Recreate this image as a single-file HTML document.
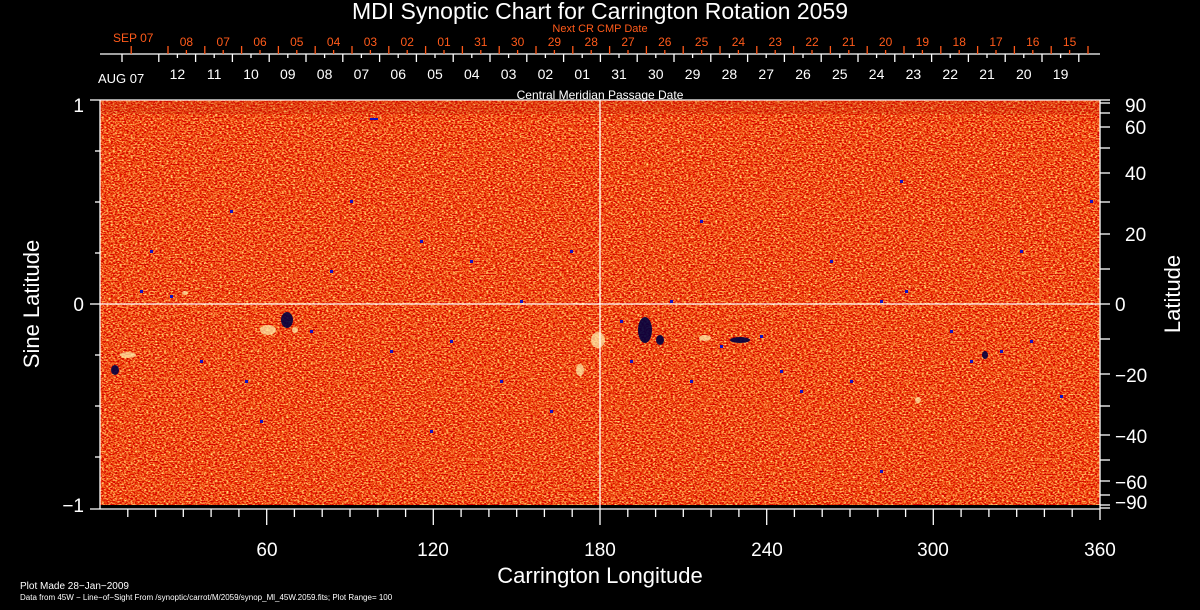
<!DOCTYPE html>
<html><head><meta charset="utf-8"><style>
html,body{margin:0;padding:0;background:#000;}
svg{display:block;}
text{font-family:"Liberation Sans",sans-serif;}
</style></head><body>
<svg width="1200" height="610" xmlns="http://www.w3.org/2000/svg">
<defs>
<filter id="noise" x="0" y="0" width="100%" height="100%" color-interpolation-filters="sRGB">
<feTurbulence type="fractalNoise" baseFrequency="0.45 0.7" numOctaves="2" seed="7" result="t"/>
<feColorMatrix in="t" type="matrix" values="0.5 0 0 0 0.68  2.0 0 0 0 -0.70  1.5 0 0 0 -0.68  0 0 0 0 1"/>
</filter>
</defs>
<rect x="0" y="0" width="1200" height="610" fill="#000"/>
<rect x="100" y="100" width="1000" height="405" fill="#e04018" filter="url(#noise)"/>
<rect x="100" y="100" width="1000" height="14" fill="#c02008" opacity="0.25"/>
<g fill="#fff4b0" opacity="0.7">
<ellipse cx="268" cy="330" rx="8" ry="5"/><ellipse cx="128" cy="355" rx="8" ry="3"/>
<ellipse cx="598" cy="340" rx="7" ry="8"/><ellipse cx="580" cy="370" rx="4" ry="6"/>
<ellipse cx="705" cy="338" rx="6" ry="3"/><ellipse cx="295" cy="330" rx="3" ry="3"/>
<ellipse cx="918" cy="400" rx="3" ry="3"/><ellipse cx="185" cy="293" rx="3" ry="2"/>
</g>
<g fill="#000040" opacity="0.9">
<ellipse cx="287" cy="320" rx="6" ry="8"/><ellipse cx="645" cy="330" rx="7" ry="13"/>
<ellipse cx="660" cy="340" rx="4" ry="5"/><ellipse cx="740" cy="340" rx="10" ry="3"/>
<ellipse cx="115" cy="370" rx="4" ry="5"/><ellipse cx="985" cy="355" rx="3" ry="4"/>
</g>
<g fill="#1010c0">
<rect x="140" y="290" width="3" height="3"/><rect x="170" y="295" width="3" height="3"/><rect x="230" y="210" width="3" height="3"/>
<rect x="245" y="380" width="3" height="3"/><rect x="310" y="330" width="3" height="3"/><rect x="330" y="270" width="3" height="3"/>
<rect x="370" y="118" width="8" height="2"/><rect x="390" y="350" width="3" height="3"/><rect x="420" y="240" width="3" height="3"/>
<rect x="450" y="340" width="3" height="3"/><rect x="470" y="260" width="3" height="3"/><rect x="500" y="380" width="3" height="3"/>
<rect x="520" y="300" width="3" height="3"/><rect x="550" y="410" width="3" height="3"/><rect x="570" y="250" width="3" height="3"/>
<rect x="620" y="320" width="3" height="3"/><rect x="630" y="360" width="3" height="3"/><rect x="670" y="300" width="3" height="3"/>
<rect x="690" y="380" width="3" height="3"/><rect x="720" y="345" width="3" height="3"/><rect x="760" y="335" width="3" height="3"/>
<rect x="780" y="370" width="3" height="3"/><rect x="800" y="390" width="3" height="3"/><rect x="830" y="260" width="3" height="3"/>
<rect x="850" y="380" width="3" height="3"/><rect x="880" y="300" width="3" height="3"/><rect x="905" y="290" width="3" height="3"/>
<rect x="950" y="330" width="3" height="3"/><rect x="970" y="360" width="3" height="3"/><rect x="1000" y="350" width="3" height="3"/>
<rect x="1030" y="340" width="3" height="3"/><rect x="1060" y="395" width="3" height="3"/><rect x="1090" y="200" width="3" height="3"/>
<rect x="150" y="250" width="3" height="3"/><rect x="200" y="360" width="3" height="3"/><rect x="260" y="420" width="3" height="3"/>
<rect x="350" y="200" width="3" height="3"/><rect x="430" y="430" width="3" height="3"/><rect x="700" y="220" width="3" height="3"/>
<rect x="900" y="180" width="3" height="3"/><rect x="1020" y="250" width="3" height="3"/><rect x="880" y="470" width="3" height="3"/>
</g>
<g stroke="#fff" stroke-width="1.3">
<line x1="600" y1="100" x2="600" y2="509"/>
<line x1="100" y1="304" x2="1100" y2="304"/>
<line x1="100" y1="100" x2="100" y2="509"/>
<line x1="90" y1="100" x2="1100" y2="100"/>
<line x1="90" y1="509" x2="1100" y2="509"/>
<line x1="1100" y1="100" x2="1100" y2="520"/>
<line x1="90" y1="304" x2="100" y2="304"/>
<line x1="95" y1="151" x2="100" y2="151"/><line x1="95" y1="202" x2="100" y2="202"/><line x1="95" y1="253" x2="100" y2="253"/>
<line x1="95" y1="355" x2="100" y2="355"/><line x1="95" y1="406" x2="100" y2="406"/><line x1="95" y1="457" x2="100" y2="457"/>
<line x1="127.8" y1="509" x2="127.8" y2="517"/><line x1="155.6" y1="509" x2="155.6" y2="517"/><line x1="183.3" y1="509" x2="183.3" y2="517"/>
<line x1="211.1" y1="509" x2="211.1" y2="517"/><line x1="238.9" y1="509" x2="238.9" y2="517"/><line x1="266.7" y1="509" x2="266.7" y2="525"/>
<line x1="294.4" y1="509" x2="294.4" y2="517"/><line x1="322.2" y1="509" x2="322.2" y2="517"/><line x1="350" y1="509" x2="350" y2="517"/>
<line x1="377.8" y1="509" x2="377.8" y2="517"/><line x1="405.6" y1="509" x2="405.6" y2="517"/><line x1="433.3" y1="509" x2="433.3" y2="525"/>
<line x1="461.1" y1="509" x2="461.1" y2="517"/><line x1="488.9" y1="509" x2="488.9" y2="517"/><line x1="516.7" y1="509" x2="516.7" y2="517"/>
<line x1="544.4" y1="509" x2="544.4" y2="517"/><line x1="572.2" y1="509" x2="572.2" y2="517"/><line x1="600" y1="509" x2="600" y2="525"/>
<line x1="627.8" y1="509" x2="627.8" y2="517"/><line x1="655.6" y1="509" x2="655.6" y2="517"/><line x1="683.3" y1="509" x2="683.3" y2="517"/>
<line x1="711.1" y1="509" x2="711.1" y2="517"/><line x1="738.9" y1="509" x2="738.9" y2="517"/><line x1="766.7" y1="509" x2="766.7" y2="525"/>
<line x1="794.4" y1="509" x2="794.4" y2="517"/><line x1="822.2" y1="509" x2="822.2" y2="517"/><line x1="850" y1="509" x2="850" y2="517"/>
<line x1="877.8" y1="509" x2="877.8" y2="517"/><line x1="905.6" y1="509" x2="905.6" y2="517"/><line x1="933.3" y1="509" x2="933.3" y2="525"/>
<line x1="961.1" y1="509" x2="961.1" y2="517"/><line x1="988.9" y1="509" x2="988.9" y2="517"/><line x1="1016.7" y1="509" x2="1016.7" y2="517"/>
<line x1="1044.4" y1="509" x2="1044.4" y2="517"/><line x1="1072.2" y1="509" x2="1072.2" y2="517"/>
<line x1="1100" y1="100" x2="1110" y2="100"/><line x1="1100" y1="103" x2="1110" y2="103"/><line x1="1100" y1="113" x2="1110" y2="113"/>
<line x1="1100" y1="127" x2="1110" y2="127"/><line x1="1100" y1="148" x2="1110" y2="148"/><line x1="1100" y1="173" x2="1110" y2="173"/>
<line x1="1100" y1="202" x2="1110" y2="202"/><line x1="1100" y1="234" x2="1110" y2="234"/><line x1="1100" y1="269" x2="1110" y2="269"/>
<line x1="1100" y1="304" x2="1110" y2="304"/>
<line x1="1100" y1="339" x2="1110" y2="339"/><line x1="1100" y1="374" x2="1110" y2="374"/><line x1="1100" y1="406" x2="1110" y2="406"/>
<line x1="1100" y1="435" x2="1110" y2="435"/><line x1="1100" y1="460" x2="1110" y2="460"/><line x1="1100" y1="481" x2="1110" y2="481"/>
<line x1="1100" y1="495" x2="1110" y2="495"/><line x1="1100" y1="505" x2="1110" y2="505"/><line x1="1100" y1="508" x2="1110" y2="508"/>
<line x1="100" y1="54" x2="1100" y2="54"/>
</g>
<g id="wt" stroke="#fff" stroke-width="1.3"></g>
<g id="ot" stroke="#ff5a1a" stroke-width="1.3"></g>
<g id="wl" fill="#fff" font-size="14" text-anchor="middle"></g>
<g id="ol" fill="#ff5a1a" font-size="12" text-anchor="middle"></g>
<text x="600" y="19" fill="#fff" font-size="23" text-anchor="middle">MDI Synoptic Chart for Carrington Rotation 2059</text>
<text x="600" y="32" fill="#ff5a1a" font-size="11" text-anchor="middle">Next CR CMP Date</text>
<text x="113" y="42" fill="#ff5a1a" font-size="12">SEP 07</text>
<text x="98" y="83" fill="#fff" font-size="13">AUG 07</text>
<text x="600" y="99" fill="#fff" font-size="12" text-anchor="middle">Central Meridian Passage Date</text>
<g fill="#fff" font-size="19">
<text x="84" y="112" text-anchor="end">1</text>
<text x="84" y="311" text-anchor="end">0</text>
<text x="84" y="512" text-anchor="end">−1</text>
<text x="267" y="556" text-anchor="middle">60</text><text x="433" y="556" text-anchor="middle">120</text>
<text x="600" y="556" text-anchor="middle">180</text><text x="767" y="556" text-anchor="middle">240</text>
<text x="933" y="556" text-anchor="middle">300</text><text x="1100" y="556" text-anchor="middle">360</text>
<text x="1125" y="112">90</text><text x="1125" y="134">60</text><text x="1125" y="180">40</text>
<text x="1125" y="241">20</text><text x="1115" y="311">0</text><text x="1115" y="382">−20</text>
<text x="1115" y="443">−40</text><text x="1115" y="489">−60</text><text x="1115" y="509">−90</text>
</g>
<g fill="#fff" font-size="22">
<text x="600" y="583" text-anchor="middle">Carrington Longitude</text>
<text transform="translate(39,304) rotate(-90)" text-anchor="middle">Sine Latitude</text>
<text transform="translate(1180,294) rotate(-90)" text-anchor="middle">Latitude</text>
</g>
<text x="20" y="589" fill="#fff" font-size="10">Plot Made 28−Jan−2009</text>
<text x="20" y="600" fill="#fff" font-size="8">Data from 45W − Line−of−Sight From /synoptic/carrot/M/2059/synop_Ml_45W.2059.fits; Plot Range=  100</text>
<script>
var ns="http://www.w3.org/2000/svg",d=36.8;
function L(g,x1,y1,x2,y2){var l=document.createElementNS(ns,"line");l.setAttribute("x1",x1);l.setAttribute("y1",y1);l.setAttribute("x2",x2);l.setAttribute("y2",y2);document.getElementById(g).appendChild(l);}
function T(g,x,y,s){var t=document.createElementNS(ns,"text");t.setAttribute("x",x);t.setAttribute("y",y);t.textContent=s;document.getElementById(g).appendChild(t);}
for(var j=0;j<=26;j++)L("wt",122+d*j,54,122+d*j,62);
for(var j=-1;j<=25;j++)L("ot",168+d*j,54,168+d*j,46);
var w=["12","11","10","09","08","07","06","05","04","03","02","01","31","30","29","28","27","26","25","24","23","22","21","20","19"];
var o=["08","07","06","05","04","03","02","01","31","30","29","28","27","26","25","24","23","22","21","20","19","18","17","16","15"];
for(var k=0;k<25;k++){var xw=177.4+d*k,xo=186.4+d*k;L("wt",xw,54,xw,58);L("ot",xo,54,xo,50);T("wl",xw,79,w[k]);T("ol",xo,46,o[k]);}
</script>
</svg>
</body></html>
